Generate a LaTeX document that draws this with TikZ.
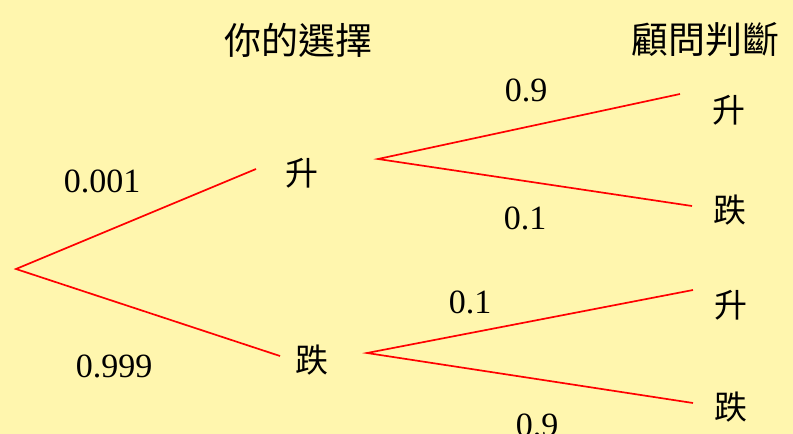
\documentclass[tikz,border=0pt]{standalone}
\usepackage{fontspec}
\setmainfont{Liberation Serif}
\newfontfamily\cjk{Noto Sans CJK TC}
\definecolor{bgyellow}{RGB}{255,246,174}
\definecolor{linered}{RGB}{255,0,0}
\begin{document}
\begin{tikzpicture}[x=1pt,y=-1pt,
  num/.style={inner sep=0pt,font=\fontsize{34}{34}\selectfont},
  chr/.style={inner sep=0pt,font=\cjk\fontsize{33}{33}\selectfont},
  head/.style={inner sep=0pt,font=\cjk\fontsize{37}{37}\selectfont},
  branch/.style={draw=linered,line width=1.7pt}]
\useasboundingbox[fill=bgyellow] (0,0) rectangle (793,434);
% headers
\node[head] (h1) at (298,40) {你的選擇};
\node[head] (h2) at (705,40) {顧問判斷};
% nodes
\coordinate (root) at (16,269);
\node[chr] (up) at (302,173) {升};
\node[chr] (down) at (312,360) {跌};
\node[chr] (upup) at (729,110) {升};
\node[chr] (updown) at (730,210) {跌};
\node[chr] (downup) at (731,305) {升};
\node[chr] (downdown) at (731,407) {跌};
% connector end points
\coordinate (upin) at (256,169);
\coordinate (upout) at (378,159);
\coordinate (downin) at (280,356);
\coordinate (downout) at (367,353);
\coordinate (upupin) at (680,94);
\coordinate (updownin) at (692,206);
\coordinate (downupin) at (693,290);
\coordinate (downdownin) at (693,403);
\draw[branch] (upin) -- (root) -- (downin);
\draw[branch] (upupin) -- (upout) -- (updownin);
\draw[branch] (downupin) -- (downout) -- (downdownin);
% probabilities
\node[num] (p1) at (102,181) {0.001};
\node[num] (p2) at (114,366) {0.999};
\node[num] (p3) at (526,90) {0.9};
\node[num] (p4) at (525,218) {0.1};
\node[num] (p5) at (470,302) {0.1};
\node[num] (p6) at (537,425) {0.9};
\end{tikzpicture}
\end{document}
